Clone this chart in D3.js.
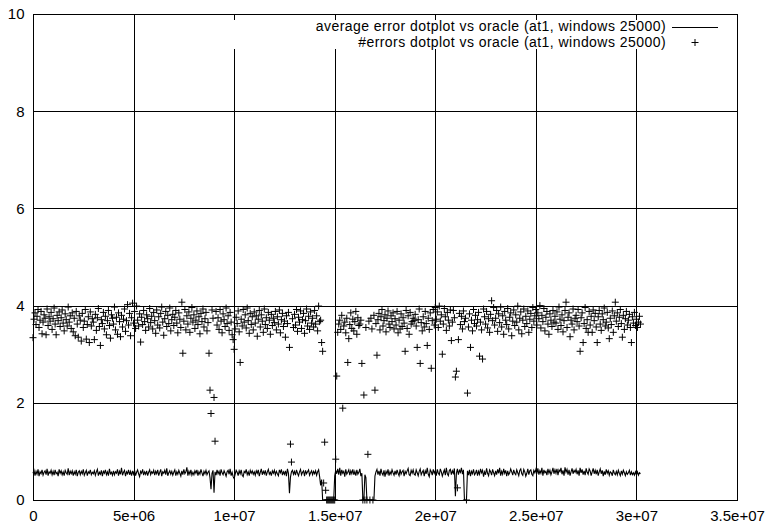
<!DOCTYPE html>
<html>
<head>
<meta charset="utf-8">
<script src="https://cdn.jsdelivr.net/npm/d3@7"></script>
<style>
  body { margin: 0; background: #fff; }
  svg text { font-family: "Liberation Sans", Arial, Helvetica, sans-serif; font-size: 15px; fill: #000; }
  svg text.key { font-size: 14px; letter-spacing: 0.45px; }
</style>
</head>
<body>
<div id="vis"></div>
<script>

// window position step between consecutive samples
const windowStep = 50000;

// average error dotplot vs oracle, one value per window (starting at 0)
const avgError = [
  .55,.61,.50,.59,.53,.63,.49,.58,.54,.62,.51,.57,.60,.52,.64,.50,.58,.55,.61,.52,
  .59,.51,.62,.54,.57,.49,.63,.55,.60,.52,.58,.50,.61,.56,.53,.65,.51,.59,.54,.60,
  .50,.58,.53,.62,.49,.57,.60,.52,.59,.54,.63,.51,.56,.61,.50,.58,.55,.62,.52,.57,
  .54,.60,.51,.58,.63,.50,.57,.53,.61,.49,.59,.55,.62,.52,.58,.50,.64,.54,.57,.51,
  .60,.52,.58,.55,.63,.50,.59,.53,.66,.51,.57,.61,.49,.58,.54,.62,.52,.59,.50,.60,
  .53,.61,.50,.57,.62,.54,.48,.59,.55,.63,.51,.58,.53,.60,.50,.57,.62,.52,.58,.55,
  .61,.51,.59,.54,.62,.50,.57,.63,.49,.58,.55,.61,.52,.65,.50,.56,.60,.53,.59,.51,
  .57,.62,.50,.58,.53,.61,.55,.49,.60,.52,.63,.54,.58,.67,.50,.59,.53,.62,.51,.57,
  .52,.60,.55,.62,.50,.58,.53,.63,.56,.49,.59,.54,.61,.52,.57,.60,.46,.22,.55,.61,
  .15,.58,.51,.62,.54,.59,.50,.63,.56,.52,.60,.55,.49,.58,.61,.53,.64,.50,.57,.48,
  .44,.53,.61,.57,.50,.60,.54,.62,.51,.48,.59,.56,.63,.52,.58,.50,.61,.55,.60,.53,
  .58,.51,.60,.55,.62,.49,.57,.64,.52,.59,.54,.61,.50,.58,.63,.53,.57,.50,.60,.55,
  .61,.52,.59,.54,.50,.62,.56,.63,.51,.58,.53,.60,.49,.64,.55,.14,.47,.58,.61,.53,
  .59,.51,.62,.55,.50,.58,.63,.52,.57,.60,.49,.61,.54,.58,.62,.51,.56,.60,.52,.59,
  .54,.60,.51,.58,.62,.48,.30,.42,0,0,0,0,0,0,0,0,0,0,0,0,
  .50,.61,.54,.64,.52,.66,.50,.62,.55,.59,.48,.63,.53,.57,.62,.51,.60,.54,.63,.52,
  .59,.50,.62,.53,.57,.64,.49,.55,0,0,.52,.46,0,0,0,0,0,0,0,0,
  .49,.58,.63,.52,.60,.50,.64,.55,.51,.61,.48,.59,.54,.63,.50,.58,.53,.62,.56,.51,
  .60,.52,.62,.55,.50,.63,.53,.58,.61,.49,.59,.54,.60,.65,.52,.50,.61,.55,.62,.53,
  .51,.62,.56,.50,.59,.64,.52,.57,.61,.49,.60,.54,.66,.53,.48,.62,.58,.51,.63,.55,
  .60,.50,.63,.55,.52,.64,.58,.49,.56,.62,.51,.66,.54,.50,.61,.63,.52,.60,.55,.65,
  .08,.55,.64,.52,.61,.57,.66,.53,.62,0,0,0,.60,.51,.62,.49,.59,.54,.63,.52,
  .55,.62,.50,.59,.53,.64,.56,.61,.48,.58,.52,.65,.55,.50,.62,.58,.51,.63,.56,.50,
  .60,.52,.63,.55,.66,.50,.59,.53,.64,.55,.61,.49,.60,.52,.56,.64,.58,.51,.62,.55,
  .52,.62,.56,.50,.61,.64,.54,.51,.63,.58,.49,.55,.64,.52,.60,.62,.53,.50,.61,.56,
  .63,.54,.65,.52,.60,.55,.66,.50,.62,.56,.59,.51,.64,.55,.61,.52,.58,.66,.54,.62,
  .55,.64,.51,.62,.58,.66,.53,.61,.50,.67,.57,.63,.52,.62,.50,.58,.65,.54,.61,.57,
  .63,.53,.61,.50,.66,.56,.63,.52,.60,.51,.65,.57,.53,.64,.60,.50,.58,.65,.54,.61,
  .53,.62,.50,.58,.64,.54,.61,.49,.59,.52,.63,.55,.60,.51,.58,.56,.50,.62,.55,.52,
  .59,.52,.61,.55,.50,.60,.53,.61,.56,.50,.58,.53,.56,.61,.51,.58,.52,.56,.51,.58,
  .52,.58,.51,.56,.54
];

// #errors dotplot vs oracle, one value per window (starting at 0)
const errorCount = [
  3.34,3.72,3.85,3.61,3.78,3.92,3.55,3.70,3.88,3.42,3.66,3.81,3.74,3.40,3.93,3.59,3.77,3.68,3.86,3.51,
  3.73,3.95,3.62,3.40,3.80,3.69,3.87,3.57,3.75,3.91,3.64,3.48,3.83,3.71,3.58,3.97,3.66,3.79,3.53,3.85,
  3.46,3.74,3.38,3.88,3.62,3.35,3.79,3.70,3.27,3.84,3.55,3.68,3.92,3.31,3.61,3.77,3.24,3.87,3.58,3.73,
  3.66,3.30,3.82,3.49,3.75,3.94,3.57,3.18,3.71,3.63,3.86,3.52,3.78,3.40,3.69,3.90,3.59,3.33,3.81,3.74,
  3.62,3.97,3.50,3.76,3.41,3.85,3.67,3.36,3.80,3.56,3.72,3.93,3.47,3.69,4.02,3.60,3.84,3.38,3.75,4.05,
  3.64,3.88,3.53,3.99,3.70,3.58,3.83,3.25,3.76,3.61,3.90,3.67,3.49,3.81,3.73,3.56,3.94,3.65,3.78,3.52,
  3.86,3.69,3.43,3.91,3.60,3.77,3.54,3.84,3.97,3.66,3.39,3.73,3.88,3.57,3.80,3.63,3.95,3.48,3.71,3.82,
  3.59,3.76,3.90,3.64,3.44,3.85,3.72,3.55,4.07,3.02,3.68,3.92,3.50,3.79,3.62,3.87,3.45,3.74,3.96,3.66,
  3.81,3.53,3.70,3.89,3.61,3.77,3.42,3.84,3.67,3.93,3.56,3.73,3.86,3.48,3.65,3.02,2.26,1.78,3.91,3.74,
  2.11,1.21,3.88,3.60,3.75,3.51,3.92,3.68,3.44,3.83,3.71,3.57,3.95,3.63,3.79,3.49,3.86,3.66,3.40,3.30,
  3.10,3.52,3.76,3.63,3.89,3.46,2.83,3.72,3.58,3.92,3.66,3.81,3.54,3.95,3.69,3.43,3.84,3.61,3.77,3.50,
  3.87,3.64,3.79,3.37,3.72,3.90,3.56,3.81,3.68,3.45,3.93,3.61,3.75,3.53,3.86,3.70,3.41,3.82,3.59,3.74,
  3.65,3.88,3.50,3.77,3.62,3.91,3.44,3.71,3.84,3.57,3.68,3.35,3.79,3.63,3.86,3.14,1.15,0.78,3.73,3.55,
  3.82,3.60,3.92,3.47,3.76,3.66,3.89,3.53,3.71,3.84,3.43,3.69,3.93,3.58,3.78,3.51,3.87,3.64,3.74,3.56,
  3.90,3.62,3.79,3.48,3.99,3.67,3.70,3.24,3.06,0.35,1.19,0.20,0,0,0,0,0,0,0,0,
  0,0.84,2.55,3.45,3.62,3.70,3.51,3.80,1.89,3.58,3.66,3.44,3.74,2.83,3.32,3.61,3.85,3.53,3.72,3.48,
  3.67,3.88,3.41,3.75,3.59,3.62,3.70,2.81,0,2.16,0,3.55,0,0.94,3.68,0,3.74,3.52,0,3.80,
  2.26,3.63,2.98,3.71,3.84,3.50,3.77,3.92,3.58,3.69,3.81,3.46,3.74,3.89,3.62,3.55,3.79,3.67,3.85,3.52,
  3.73,3.60,3.88,3.44,3.70,3.52,3.83,3.57,3.75,3.64,3.06,3.90,3.53,3.79,3.41,3.86,3.62,3.67,3.74,3.69,
  3.82,3.58,3.14,3.71,3.93,2.81,3.65,3.48,3.77,3.56,3.88,3.63,3.18,3.74,3.51,3.85,2.71,3.69,3.92,3.60,
  3.96,3.72,3.87,3.55,3.99,3.68,3.81,3.00,3.62,3.94,3.77,3.49,3.86,3.70,3.58,3.91,3.28,3.66,3.90,3.75,
  2.53,2.65,0.25,3.30,3.84,3.61,3.78,3.52,3.89,3.67,3.74,0,2.20,3.56,3.83,3.14,3.70,3.48,3.92,3.63,
  3.80,3.58,3.71,3.86,2.96,3.66,3.50,2.90,3.93,3.77,3.62,3.88,3.54,3.73,3.45,3.82,4.10,3.69,3.96,3.60,
  3.74,3.90,3.47,3.83,3.65,3.97,3.56,3.79,3.41,3.88,3.70,3.61,3.94,3.52,3.76,3.85,3.38,3.68,3.91,3.59,
  3.81,3.66,3.99,3.50,3.74,3.87,3.42,3.70,3.93,3.57,3.78,3.63,3.89,3.45,3.72,3.84,3.55,3.96,3.68,3.79,
  3.92,3.60,3.85,3.73,4.00,3.54,3.80,3.67,3.94,3.48,3.76,3.88,3.62,3.41,3.83,3.70,3.57,3.90,3.66,3.78,
  3.64,3.87,3.51,3.97,3.72,3.59,3.81,3.46,3.69,3.90,4.07,3.55,3.76,3.85,3.36,3.70,3.62,3.93,3.50,3.74,
  3.80,3.67,3.92,3.58,3.06,3.75,3.85,3.24,3.63,3.96,3.53,3.71,3.45,3.88,3.60,3.78,3.45,3.91,3.69,3.84,
  3.56,3.24,3.77,3.90,3.62,3.49,3.83,3.71,3.95,3.58,3.66,3.86,3.54,3.32,3.74,3.61,3.89,3.45,3.79,4.07,
  3.68,3.85,3.57,3.76,3.92,3.63,3.35,3.80,3.51,3.73,3.88,3.60,3.70,3.82,3.55,3.24,3.77,3.64,3.86,3.59,
  3.72,3.55,3.66,3.78,3.62
];

const xTicks = [0, 5e6, 1e7, 1.5e7, 2e7, 2.5e7, 3e7, 3.5e7];
const xTickLabels = ["0", "5e+06", "1e+07", "1.5e+07", "2e+07", "2.5e+07", "3e+07", "3.5e+07"];
const yTicks = [0, 2, 4, 6, 8, 10];
const legendLabels = [
  "average error dotplot vs oracle (at1, windows 25000)",
  "#errors dotplot vs oracle (at1, windows 25000)"
];

const width = 766, height = 523;
const margin = {top: 14, right: 29, bottom: 23, left: 33};

const svg = d3.select("#vis").append("svg")
  .attr("width", width)
  .attr("height", height);

const x = d3.scaleLinear().domain([0, 3.5e7]).range([margin.left, width - margin.right]);
const y = d3.scaleLinear().domain([0, 10]).range([height - margin.bottom, margin.top]);

const crisp = v => Math.round(v) + 0.5;
const plotH = y(0) - y(10);
const plotW = x(3.5e7) - x(0);

// grid lines
const grid = svg.append("g").attr("shape-rendering", "crispEdges");
grid.selectAll(".vgrid")
  .data(xTicks.slice(1, -1))
  .join("line")
  .attr("x1", d => crisp(x(d))).attr("x2", d => crisp(x(d)))
  .attr("y1", y(0)).attr("y2", y(10))
  .attr("stroke", "#000");
grid.selectAll(".hgrid")
  .data(yTicks.slice(1, -1))
  .join("line")
  .attr("x1", x(0)).attr("x2", x(3.5e7))
  .attr("y1", d => crisp(y(d))).attr("y2", d => crisp(y(d)))
  .attr("stroke", "#000");

// the key box clears the grid behind it
svg.append("rect")
  .attr("x", 200).attr("y", y(10) + 5)
  .attr("width", x(3.5e7) - 200).attr("height", 30)
  .attr("fill", "#fff");

// axes: inward ticks on all four sides, labels bottom and left
const fmtX = d => xTickLabels[xTicks.indexOf(d)];
svg.append("g")
  .attr("transform", `translate(0,${crisp(y(0))})`)
  .call(d3.axisBottom(x).tickValues(xTicks).tickFormat(fmtX).tickSize(-5).tickPadding(10));
svg.append("g")
  .attr("transform", `translate(0,${crisp(y(10))})`)
  .call(d3.axisTop(x).tickValues(xTicks).tickFormat("").tickSize(-5));
svg.append("g")
  .attr("transform", `translate(${crisp(x(0))},0)`)
  .call(d3.axisLeft(y).tickValues(yTicks).tickFormat(d3.format("d")).tickSize(-5).tickPadding(9));
svg.append("g")
  .attr("transform", `translate(${crisp(x(3.5e7))},0)`)
  .call(d3.axisRight(y).tickValues(yTicks).tickFormat("").tickSize(-5));

svg.selectAll(".domain").remove();
svg.selectAll(".tick line").attr("stroke", "#000").attr("shape-rendering", "crispEdges");
svg.selectAll(".tick text").attr("fill", "#000").style("font-size", "15px")
  .style("font-family", '"Liberation Sans", Arial, sans-serif');

// border
svg.append("rect")
  .attr("x", crisp(x(0))).attr("y", crisp(y(10)))
  .attr("width", Math.round(plotW)).attr("height", Math.round(plotH))
  .attr("fill", "none").attr("stroke", "#000")
  .attr("shape-rendering", "crispEdges");

// #errors points as "+" marks
const plus = "M-3.5,0H3.5M0,-3.5V3.5";
svg.append("g")
  .selectAll("path")
  .data(errorCount)
  .join("path")
  .attr("d", plus)
  .attr("transform", (d, i) => `translate(${x(i * windowStep)},${y(d)})`)
  .attr("fill", "none")
  .attr("stroke", "#000")
  .attr("stroke-width", 1);

// average error line
const line = d3.line()
  .x((d, i) => x(i * windowStep))
  .y(d => y(d));
svg.append("path")
  .datum(avgError)
  .attr("d", line)
  .attr("fill", "none")
  .attr("stroke", "#000")
  .attr("stroke-width", 1.1);

// key
const keyTextX = 666;
const keyRows = [y(10) + 12.5, y(10) + 28.5];
svg.selectAll(".key")
  .data(legendLabels)
  .join("text")
  .attr("class", "key")
  .attr("x", keyTextX)
  .attr("y", (d, i) => keyRows[i])
  .attr("dy", "0.35em")
  .attr("text-anchor", "end")
  .text(d => d);
svg.append("line")
  .attr("x1", 672).attr("x2", 718)
  .attr("y1", crisp(keyRows[0])).attr("y2", crisp(keyRows[0]))
  .attr("stroke", "#000").attr("shape-rendering", "crispEdges");
svg.append("path")
  .attr("d", plus)
  .attr("transform", `translate(695,${keyRows[1]})`)
  .attr("fill", "none").attr("stroke", "#000");

</script>
</body>
</html>
